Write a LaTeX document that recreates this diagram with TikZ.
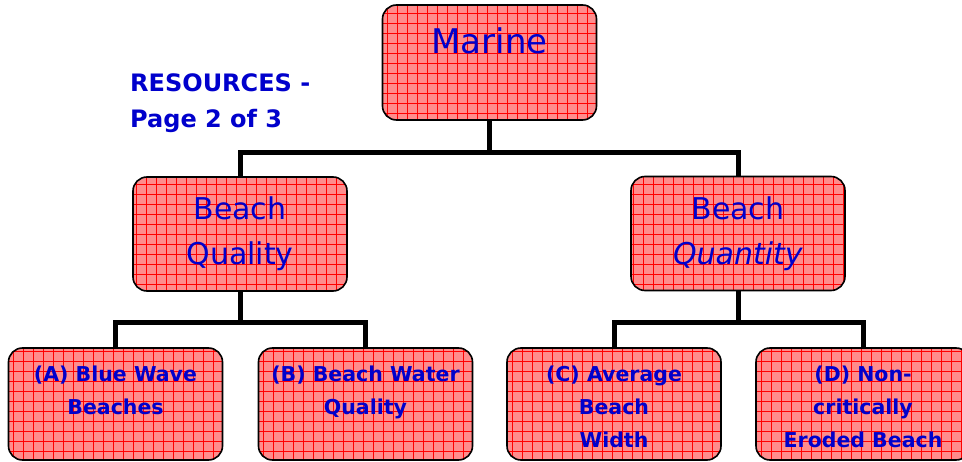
\documentclass[tikz,border=0pt]{standalone}
\usepackage{fontspec}
\setmainfont{DejaVu Sans}
\usepackage{xcolor}
\usepackage{tikz}
\usetikzlibrary{positioning}

\definecolor{boxred}{RGB}{255,140,140}
\definecolor{inkblue}{RGB}{0,0,204}

% text that hangs from the top of a box
\newcommand{\toplines}[2]{\parbox[t][#1][t]{204pt}{\centering #2}}

\begin{document}
\begin{tikzpicture}[
  x=1pt, y=-1pt,
  gridbox/.style={
    draw, line width=1.6pt, rectangle, rounded corners=14pt,
    fill=boxred, text=inkblue, inner sep=0pt, minimum width=214pt,
    path picture={
      \draw[red, line width=0.7pt]
        (path picture bounding box.south west) grid[step=10pt]
        (path picture bounding box.north east);
    }
  },
  topbox/.style={gridbox, minimum height=115pt,
    font=\fontsize{34}{40}\selectfont},
  midbox/.style={gridbox, minimum height=114pt, align=center,
    font=\fontsize{30}{45}\selectfont},
  leafbox/.style={gridbox, minimum height=112pt,
    font=\bfseries\fontsize{20.5}{33}\selectfont},
  pagenote/.style={text=inkblue, align=left, inner sep=0pt,
    anchor=north west, font=\bfseries\fontsize{24}{36}\selectfont},
  bus/.style={line width=5pt},
]
\useasboundingbox (0,0) rectangle (962,462);

%% ── Boxes ───────────────────────────────────────────────────────────────────
\node[topbox]  (marine)   at (489.5, 62.5) {\toplines{69pt}{Marine}};
\node[midbox]  (quality)  at (240,   234)  {Beach\\Quality};
\node[midbox]  (quantity) at (738,   233.5){Beach\\\textit{Quantity}};
\node[leafbox] (bluewave) at (115.5, 404)  {\toplines{76pt}{(A) Blue Wave\\Beaches}};
\node[leafbox] (water)    at (365.5, 404)  {\toplines{76pt}{(B) Beach Water\\Quality}};
\node[leafbox] (avgwidth) at (614,   404)  {\toplines{76pt}{(C) Average\\Beach\\Width}};
\node[leafbox] (eroded)   at (863,   404)  {\toplines{76pt}{(D) Non-\\critically\\Eroded Beach}};

\node[pagenote] (resources) at (130, 73) {RESOURCES -\\Page 2 of 3};

%% ── Buses ───────────────────────────────────────────────────────────────────
\coordinate (topbus)   at (489.5, 153);
\coordinate (leftbus)  at (240,   323);
\coordinate (rightbus) at (738,   323);

\draw[bus] (marine)         -- (topbus);
\draw[bus] (quality.north)  |- (topbus)   -| (quantity.north);
\draw[bus] (quality)        -- (leftbus);
\draw[bus] (bluewave.north) |- (leftbus)  -| (water.north);
\draw[bus] (quantity)       -- (rightbus);
\draw[bus] (avgwidth.north) |- (rightbus) -| (eroded.north);

\end{tikzpicture}
\end{document}
